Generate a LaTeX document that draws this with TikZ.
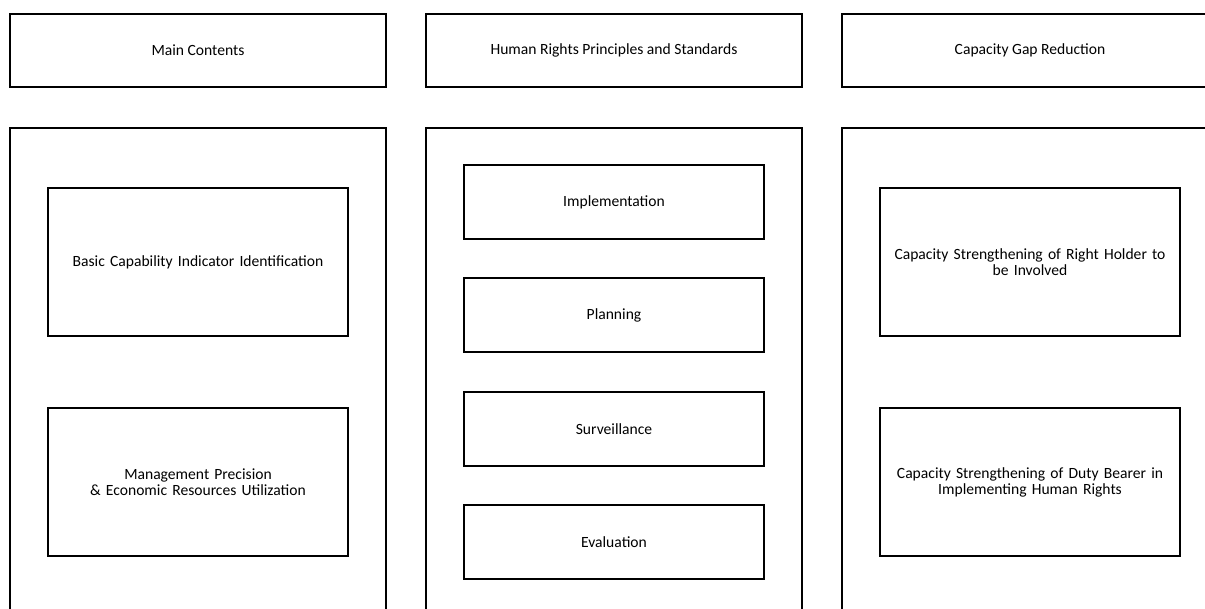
\documentclass[tikz,border=0pt]{standalone}
\usepackage{fontspec}
\setmainfont{Carlito}
\begin{document}
\begin{tikzpicture}[x=1pt,y=-1pt,
  box/.style={draw=black,line width=2pt,fill=white,align=center,inner sep=0pt,font=\fontsize{15.6}{16}\selectfont},
  head/.style={box,minimum width=376pt,minimum height=73pt},
  panel/.style={box,minimum width=376pt,minimum height=500pt},
  wide/.style={box,minimum width=300pt,minimum height=148pt,text width=292pt},
  slim/.style={box,minimum width=300pt,minimum height=74pt}]
\useasboundingbox (0,0) rectangle (1205,609);
\clip (0,0) rectangle (1205,609);
\fill[white] (0,0) rectangle (1205,609);
\node[head] (h1) at (198,50.5) {Main Contents};
\node[head] (h2) at (614,50.5) {Human Rights Principles and Standards};
\node[head] (h3) at (1030,50.5) {Capacity Gap Reduction};
\node[panel] (p1) at (198,378) {};
\node[panel] (p2) at (614,378) {};
\node[panel] (p3) at (1030,378) {};
\node[wide] (a1) at (198,262) {Basic Capability Indicator Identification};
\node[wide] (a2) at (198,482) {Management Precision\\\& Economic Resources Utilization};
\node[slim] (b1) at (614,202) {Implementation};
\node[slim] (b2) at (614,315.5) {Planning};
\node[slim] (b3) at (614,429) {Surveillance};
\node[slim] (b4) at (614,542) {Evaluation};
\node[wide] (c1) at (1030,262) {Capacity Strengthening of Right Holder to\\be Involved};
\node[wide] (c2) at (1030,482) {Capacity Strengthening of Duty Bearer in\\Implementing Human Rights};
\end{tikzpicture}
\end{document}
